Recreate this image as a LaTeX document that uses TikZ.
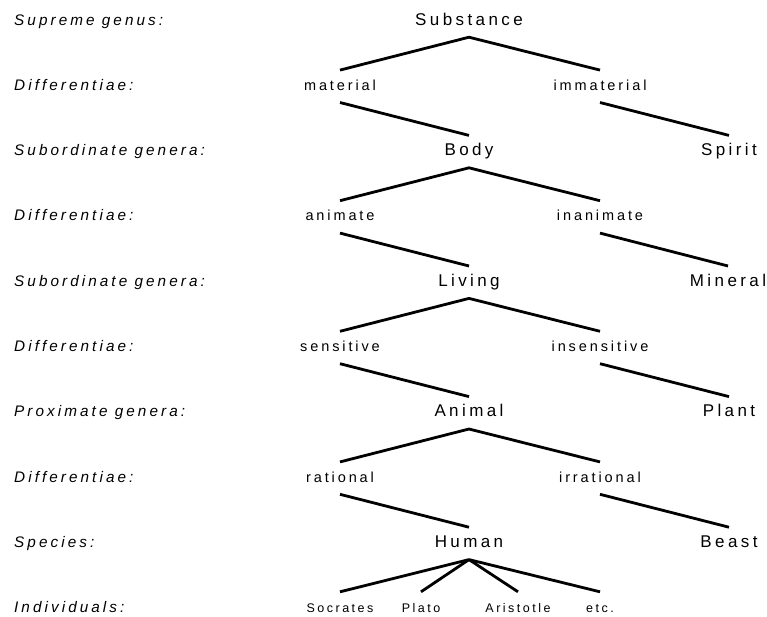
\documentclass[tikz,border=0pt]{standalone}
\usepackage{fontspec}
\newfontfamily\treefont[LetterSpace=20]{Liberation Sans}
\begin{document}
\begin{tikzpicture}[x=1pt,y=-1pt,
  every node/.style={inner xsep=0pt, inner ysep=8pt, text height=12pt, text depth=4pt, anchor=base},
  genus/.style={font=\treefont\fontsize{17}{20}\selectfont},
  diff/.style={font=\treefont\fontsize{14.5}{17}\selectfont},
  indiv/.style={font=\treefont\fontsize{12.5}{15}\selectfont},
  rowlabel/.style={font=\treefont\itshape\fontsize{15.3}{18}\selectfont, anchor=base west},
  edge/.style={line width=2.8pt}]
\useasboundingbox (0,0) rectangle (767,616);

% level names down the left margin
\node[rowlabel] (l0) at (14,25)    {Supreme genus:};
\node[rowlabel] (l1) at (14,90.3)  {Differentiae:};
\node[rowlabel] (l2) at (14,155.6) {Subordinate genera:};
\node[rowlabel] (l3) at (14,220.9) {Differentiae:};
\node[rowlabel] (l4) at (14,286.2) {Subordinate genera:};
\node[rowlabel] (l5) at (14,351.5) {Differentiae:};
\node[rowlabel] (l6) at (14,416.8) {Proximate genera:};
\node[rowlabel] (l7) at (14,482.1) {Differentiae:};
\node[rowlabel] (l8) at (14,547.4) {Species:};
\node[rowlabel] (l9) at (14,612)   {Individuals:};

% the tree
\node[genus] (substance) at (469,25) {Substance};
\node[diff] (material)   at (340,90.3) {material};
\node[diff] (immaterial) at (600,90.3) {immaterial};
\node[genus] (body)   at (469,155.6) {Body};
\node[genus] (spirit) at (729,155.6) {Spirit};
\node[diff] (animate)   at (340,220.9) {animate};
\node[diff] (inanimate) at (600,220.9) {inanimate};
\node[genus] (living)  at (469,286.2) {Living};
\node[genus] (mineral) at (728,286.2) {Mineral};
\node[diff] (sensitive)   at (340,351.5) {sensitive};
\node[diff] (insensitive) at (600,351.5) {insensitive};
\node[genus] (animal) at (469,416.8) {Animal};
\node[genus] (plant)  at (729,416.8) {Plant};
\node[diff] (rational)   at (340,482.1) {rational};
\node[diff] (irrational) at (600,482.1) {irrational};
\node[genus] (human) at (469,547.4) {Human};
\node[genus] (beast) at (729,547.4) {Beast};
\node[indiv] (socrates)  at (340,612) {Socrates};
\node[indiv] (plato)     at (421,612) {Plato};
\node[indiv] (aristotle) at (518,612) {Aristotle};
\node[indiv] (etc)       at (600,612) {etc.};

\draw[edge] (material.north) -- (substance.south) -- (immaterial.north);
\draw[edge] (material.south) -- (body.north);
\draw[edge] (immaterial.south) -- (spirit.north);
\draw[edge] (animate.north) -- (body.south) -- (inanimate.north);
\draw[edge] (animate.south) -- (living.north);
\draw[edge] (inanimate.south) -- (mineral.north);
\draw[edge] (sensitive.north) -- (living.south) -- (insensitive.north);
\draw[edge] (sensitive.south) -- (animal.north);
\draw[edge] (insensitive.south) -- (plant.north);
\draw[edge] (rational.north) -- (animal.south) -- (irrational.north);
\draw[edge] (rational.south) -- (human.north);
\draw[edge] (irrational.south) -- (beast.north);
\draw[edge] (human.south) -- (socrates.north);
\draw[edge] (human.south) -- (plato.north);
\draw[edge] (human.south) -- (aristotle.north);
\draw[edge] (human.south) -- (etc.north);
\end{tikzpicture}
\end{document}
